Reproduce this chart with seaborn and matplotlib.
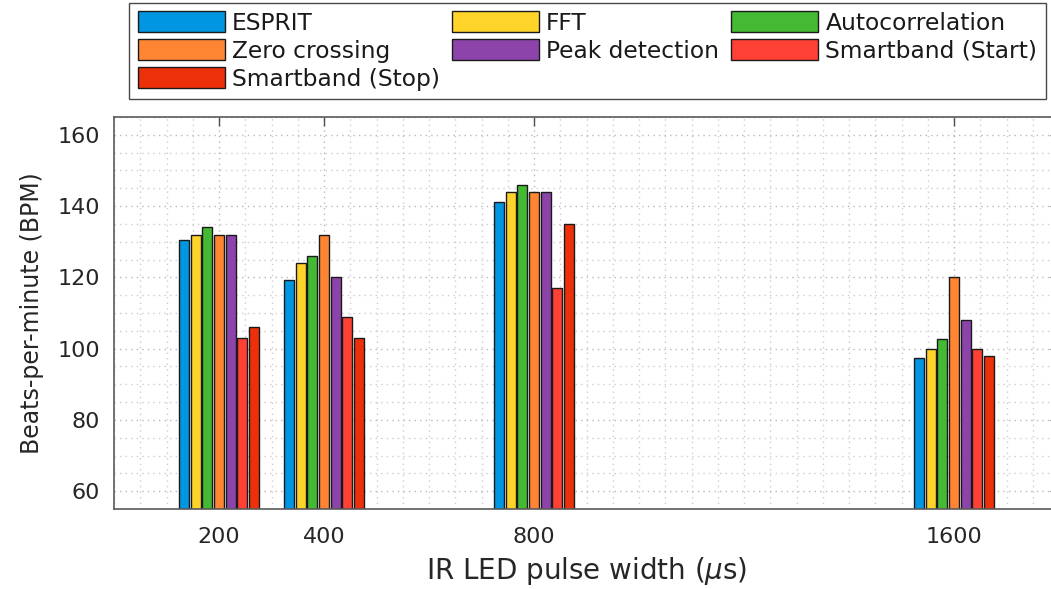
import matplotlib
matplotlib.use("Agg")
import matplotlib.pyplot as plt
import matplotlib.patches as mpatches
from matplotlib.ticker import MultipleLocator, FixedLocator
import seaborn as sns
import pandas as pd

pulse_widths = [200, 400, 800, 1600]
methods = ["ESPRIT", "FFT", "Autocorrelation", "Zero crossing",
           "Peak detection", "Smartband (Start)", "Smartband (Stop)"]
esprit = [130.6, 119.2, 141.1, 97.5]
fft = [132, 124.1, 144, 100]
autocorr = [134, 126, 146, 102.8]
zero_cross = [132, 132, 144, 120]
peak_det = [132, 120, 144, 108]
sb_start = [103, 109, 117, 100]
sb_stop = [106, 103, 135, 98]
colors = ["#0096E1", "#FFD42A", "#44B934", "#FF8533",
          "#8C44AA", "#FF4034", "#EB300A"]

series = [esprit, fft, autocorr, zero_cross, peak_det, sb_start, sb_stop]
rows = []
for m, vals in zip(methods, series):
    for pw, v in zip(pulse_widths, vals):
        rows.append({"pw": pw, "bpm": v, "method": m})
df = pd.DataFrame(rows)

sns.set_style("white")
plt.rcParams["font.family"] = ["DejaVu Sans"]
plt.rcParams["mathtext.fontset"] = "dejavusans"

fig = plt.figure(figsize=(10.51, 5.89), dpi=100)
ax = fig.add_axes([114 / 1051, 80 / 589, 945 / 1051, 392 / 589])

sns.barplot(data=df, x="pw", y="bpm", hue="method", hue_order=methods,
            palette=colors, native_scale=True, width=0.78, gap=0.15,
            errorbar=None, edgecolor="#1a1a1a", linewidth=1.0,
            saturation=1.0, legend=False, ax=ax)

ax.set_xlim(0, 1800)
ax.set_ylim(55, 165)
ax.xaxis.set_major_locator(FixedLocator(pulse_widths))
ax.set_xticklabels([str(p) for p in pulse_widths])
ax.xaxis.set_minor_locator(MultipleLocator(50))
ax.yaxis.set_major_locator(MultipleLocator(20))
ax.yaxis.set_minor_locator(MultipleLocator(5))

ax.grid(True, which="major", linestyle=(0, (1, 3)), color="#b8b8b8", linewidth=1.0)
ax.grid(True, which="minor", linestyle=(0, (1, 3)), color="#cccccc", linewidth=1.0)
ax.set_axisbelow(True)

ax.tick_params(which="major", direction="in", length=6.5, width=1.0,
               top=True, right=True, colors="#4d4d4d",
               labelcolor="#262626", labelsize=16)
ax.tick_params(axis="x", which="major", pad=13)
ax.tick_params(axis="y", which="major", pad=10)
ax.tick_params(which="minor", length=0)
for s in ax.spines.values():
    s.set_visible(True)
    s.set_color("#5a5a5a")
    s.set_linewidth(1.2)

ax.set_xlabel(r"IR LED pulse width ($\mu$s)", fontsize=20, color="#262626", labelpad=6)
ax.set_ylabel("Beats-per-minute (BPM)", fontsize=17, color="#262626", labelpad=10)

handles = [mpatches.Patch(facecolor=c, edgecolor="#1a1a1a", linewidth=1.0, label=m)
           for m, c in zip(methods, colors)]
order = [0, 3, 6, 1, 4, 2, 5]
leg = fig.legend([handles[i] for i in order], [methods[i] for i in order],
                 ncol=3, loc="upper center", bbox_to_anchor=(587.5 / 1051, 0.995),
                 fontsize=16.8, frameon=True, fancybox=False, shadow=False,
                 handlelength=3.75, handleheight=1.0, handletextpad=0.3,
                 columnspacing=0.5, labelspacing=0.2, borderpad=0.35,
                 borderaxespad=0.0)
leg.get_frame().set_edgecolor("#1a1a1a")
leg.get_frame().set_linewidth(1.0)
for t in leg.get_texts():
    t.set_color("#1a1a1a")

fig.savefig("out.png", dpi=100)
